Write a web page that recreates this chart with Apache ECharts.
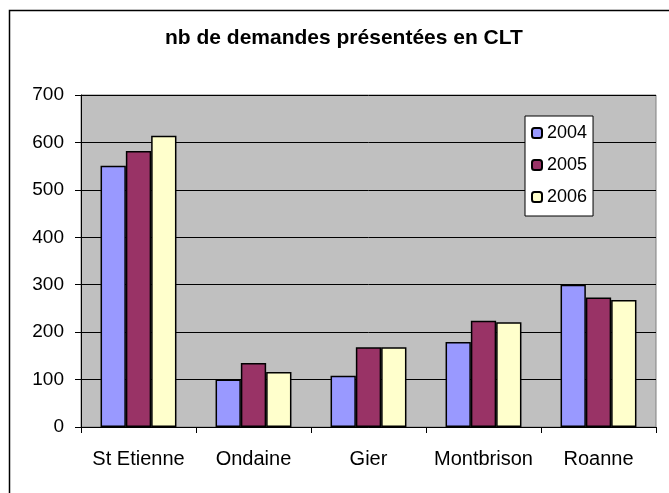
<!DOCTYPE html>
<html>
<head>
<meta charset="utf-8">
<script src="https://cdn.jsdelivr.net/npm/echarts@6/dist/echarts.min.js"></script>
<style>
  html, body { margin: 0; padding: 0; background: #fff; }
  #main { width: 669px; height: 493px; }
</style>
</head>
<body>
<div id="main"></div>
<script>
// données
var sites = ['St Etienne', 'Ondaine', 'Gier', 'Montbrison', 'Roanne'];
var annees = ['2004', '2005', '2006'];
var v2004 = [551, 100, 108, 179, 300];
var v2005 = [582, 135, 168, 224, 273];
var v2006 = [614, 116, 168, 221, 268];
var couleurs = ['#9999FF', '#993366', '#FFFFCC'];

var myChart = echarts.init(document.getElementById('main'));
var font = 'Liberation Sans, Arial, sans-serif';

function serie(nom, data, i) {
    return {
        name: nom,
        type: 'bar',
        data: data,
        barGap: '0%',
        barCategoryGap: '34%',
        itemStyle: { color: couleurs[i], borderColor: '#000', borderWidth: 1.5 }
    };
}

var option = {
    animation: false,
    backgroundColor: '#fff',
    title: {
        text: 'nb de demandes présentées en CLT',
        left: 165,
        top: 28,
        padding: 0,
        textStyle: { fontFamily: font, fontSize: 21, fontWeight: 'bold', color: '#000' }
    },
    graphic: [{
        type: 'rect',
        shape: { x: 9.5, y: 10.5, width: 700, height: 500 },
        style: { fill: 'none', stroke: '#000', lineWidth: 1.5 },
        silent: true
    }],
    legend: {
        orient: 'vertical',
        left: 525,
        top: 116,
        width: 68,
        padding: [8, 6, 10, 6],
        itemWidth: 10,
        itemHeight: 10,
        itemGap: 14,
        backgroundColor: '#fff',
        borderColor: '#000',
        borderWidth: 1,
        borderRadius: 0,
        data: annees,
        textStyle: { fontFamily: font, fontSize: 18, color: '#000' }
    },
    grid: {
        left: 81,
        right: 13,
        top: 95,
        bottom: 66,
        show: true,
        backgroundColor: '#C0C0C0',
        borderColor: '#808080',
        borderWidth: 1
    },
    xAxis: {
        type: 'category',
        data: sites,
        axisLine: { lineStyle: { color: '#000', width: 1 } },
        axisTick: { show: true, length: 6, lineStyle: { color: '#000' } },
        axisLabel: { interval: 0, margin: 22, fontFamily: font, fontSize: 20, color: '#000' }
    },
    yAxis: {
        type: 'value',
        min: 0,
        max: 700,
        interval: 100,
        axisLine: { show: true, lineStyle: { color: '#000', width: 1 } },
        axisTick: { show: true, length: 6, lineStyle: { color: '#000' } },
        axisLabel: { margin: 17, fontFamily: font, fontSize: 19, color: '#000' },
        splitLine: { show: true, lineStyle: { color: '#000', width: 1 } }
    },
    series: [
        serie(annees[0], v2004, 0),
        serie(annees[1], v2005, 1),
        serie(annees[2], v2006, 2)
    ]
};
myChart.setOption(option);
</script>
</body>
</html>
